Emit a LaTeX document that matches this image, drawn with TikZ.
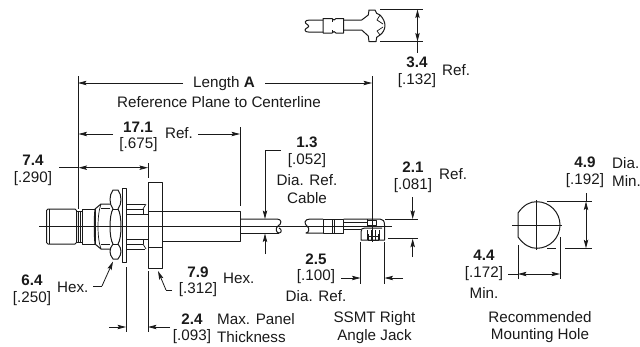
\documentclass[tikz,border=0pt]{standalone}
\usepackage{fontspec}
\setmainfont{Liberation Sans}
\usetikzlibrary{arrows.meta}
\definecolor{ink}{HTML}{1A1A1A}
\tikzset{
  lbl/.style={inner sep=0pt,text=ink,font=\fontsize{15.2}{16}\selectfont},
  bnum/.style={lbl,font=\fontsize{15.2}{16}\selectfont\bfseries},
  part/.style={draw=ink,line width=1pt,line join=round},
  thin part/.style={draw=ink,line width=0.7pt},
  dim/.style={draw=ink,line width=0.8pt},
  tip/.style={dim,-{Stealth[length=8.5pt,width=4.4pt,inset=1.5pt]}},
  tiptwo/.style={dim,{Stealth[length=8.5pt,width=4.4pt,inset=1.5pt]}-{Stealth[length=8.5pt,width=4.4pt,inset=1.5pt]}},
}
\begin{document}
\begin{tikzpicture}[x=1pt,y=-1pt]
\useasboundingbox (0,0) rectangle (640,346);
\fill[white] (0,0) rectangle (640,346);
% ---- top view of the jack
\draw[part] (323,20) -- (310,20) .. controls (304,20) and (304,23) .. (308,25) .. controls (311,27) and (305,28) .. (305,30) .. controls (305,33) and (310,32) .. (323,32);
\draw[part] (323,18.5) -- (332,18.5) -- (334,20) -- (336,18.5) -- (343.5,18.5) -- (343.5,33) -- (336,33) -- (334,31.5) -- (332,33) -- (323,33) -- cycle;
\draw[thin part] (332,18.5) -- (332,22) (332,30) -- (332,33);
\draw[part] (343.5,20) -- (361.7,20) -- (368.3,15) -- (369,10) -- (375,10) -- (376.7,13.3) -- (380,15) .. controls (383,18) and (385,22) .. (385,25.5) .. controls (385,29) and (383,33) .. (380,35) -- (376.7,37.3) -- (376,41.7) -- (369,41.7) -- (368.3,36) -- (361.7,30) -- (343.5,30);
\draw[thin part] (380,15) -- (377,20) -- (383,24) (380,35) -- (377,31) -- (383,27);
% ---- top view dimension
\coordinate (tdA) at (380,9.5); \coordinate (tdB) at (423,9.5);
\coordinate (tdC) at (380,41.5); \coordinate (tdD) at (423,41.5);
\draw[dim] (tdA) -- (tdB) (tdC) -- (tdD);
\coordinate (t1) at (417.5,9.5); \coordinate (t2) at (417.5,41.5); \coordinate (t3) at (417.5,53);
\draw[tiptwo] (t1) -- (t2);
\draw[dim] (t2) -- (t3);
\node[bnum] (n34) at (417,62) {3.4};
\node[lbl] (n132) at (417,81) {[.132]};
\node[lbl,anchor=west] (nref34) at (442,70) {Ref.};
% ---- Length A
\coordinate (la) at (78,83); \coordinate (lb) at (372,83);
\coordinate (la1) at (183,83); \coordinate (lb1) at (265,83);
\draw[dim] (78.5,76) -- (78.5,209);
\draw[dim] (372,76) -- (372,242);
\draw[tip] (la1) -- (la);
\draw[tip] (lb1) -- (lb);
\node[lbl] (nlen) at (224,84) {Length \textbf{A}};
\node[lbl,anchor=west] (nrefplane) at (117,102.5) {Reference Plane to Centerline};
% ---- 17.1
\draw[dim] (240,127) -- (240,206);
\coordinate (s1) at (113,134); \coordinate (s2) at (78.5,134);
\coordinate (s3) at (198,134); \coordinate (s4) at (240,134);
\draw[tip] (s1) -- (s2);
\draw[tip] (s3) -- (s4);
\node[bnum] (n171) at (138,127) {17.1};
\node[lbl] (n675) at (138.5,145) {[.675]};
\node[lbl] (nref171) at (179,133.5) {Ref.};
% ---- 7.4
\coordinate (v1) at (59,167.7); \coordinate (v2) at (78.5,167.7); \coordinate (v3) at (148,167.7);
\draw[dim] (v1) -- (v2);
\draw[tiptwo] (v2) -- (v3);
\draw[dim] (148,163) -- (148,178);
\node[bnum] (n74) at (33,160.5) {7.4};
\node[lbl] (n290) at (33,179) {[.290]};
% ---- connector body
\draw[part,rounded corners=1.5pt] (46.5,209) rectangle (76.5,244);
\draw[thin part] (49,209) -- (49,244);
\draw[part] (76.5,211) -- (82.5,211) (76.5,242) -- (82.5,242);
\draw[thin part] (78,211) -- (78,242) (80,211) -- (80,242);
\draw[part] (82.5,209) rectangle (95,244);
\draw[part] (95,209) -- (101,204) -- (110,204) (95,244) -- (101,249) -- (110,249);
\draw[part] (95,209) .. controls (94,218) and (94,235) .. (95,244);
\draw[thin part] (101,204) .. controls (97,215) and (97,238) .. (101,249);
\draw[thin part] (101,208.5) -- (110,208.5) (101,244.5) -- (110,244.5);
% nut
\draw[part,fill=white] (113,190) -- (118,190) .. controls (122,195) and (122,204) .. (118,209) .. controls (122,215) and (122,238) .. (118,244) .. controls (122,249) and (122,254) .. (118,259) -- (113,259) .. controls (109,254) and (109,249) .. (113,244) .. controls (109,238) and (109,215) .. (113,209) .. controls (109,204) and (109,195) .. (113,190) -- cycle;
\draw[thin part] (113,209) -- (118,209) (113,244) -- (118,244);
% washer
\draw[part] (122,188) rectangle (126,262);
% threaded section
\draw[part] (126,204) -- (145,204) (126,249) -- (145,249) (126,209) -- (143,209) (126,244) -- (143,244);
\draw[part] (126,214) -- (148,214) (126,239) -- (148,239);
\draw[thin part] (143,209) -- (146,204) (143,244) -- (146,249);
\draw[thin part] (143,209) -- (143,214) (143,239) -- (143,244);
% flange
\draw[part] (148,182) rectangle (162,268);
\draw[part] (148,211) -- (162,211) (148,247) -- (162,247);
% rear body
\draw[part] (162,211) -- (240,211) -- (240,241) -- (162,241);
% cable
\draw[part] (240,219) -- (277,219) .. controls (282,219) and (282,224) .. (278,226) .. controls (275,228) and (276,233) .. (279,233) .. controls (282,233) and (282,229) .. (279,228);
\draw[part] (279,233) -- (240,233);
\draw[part] (323,219) -- (310,219) .. controls (304,219) and (304,224) .. (307,226) .. controls (310,228) and (309,233) .. (306,233) -- (323,233);
\draw[part] (323,219) rectangle (343.5,233);
\draw[thin part] (332,219) -- (332,233) (334,219) -- (334,233);
\draw[part] (343.5,219) -- (380,219) .. controls (383,219) and (384.5,221) .. (384.5,225) -- (384.5,240) -- (361,240) -- (361,232) .. controls (361,229) and (362,228) .. (365,228) -- (382,228);
\draw[thin part] (343.5,222) -- (367,222) (343.5,226) -- (367,226);
\draw[thin part] (343.5,229) -- (361,229);
\draw[thin part] (367,219) -- (367,226) (368,234) -- (368,240) (378,234) -- (378,240);
\draw[part] (367,230) -- (367,240) (371,230) -- (371,240) (375,230) -- (375,240) (379,230) -- (379,240);
\draw[part] (368,236) rectangle (378,240);
\draw[part] (367.5,220) rectangle (376,225);
% centre line
\draw[dim] (39,226.7) -- (392,226.7);
% ---- 6.4 hex
\node[bnum] (n64) at (32,280) {6.4};
\node[lbl] (n250) at (32,299) {[.250]};
\node[lbl,anchor=west] (nhex64) at (57,287) {Hex.};
\coordinate (h1) at (102,286); \coordinate (h2) at (113,261.5);
\draw[dim] (93,286) -- (h1);
\draw[tip] (h1) -- (h2);
% ---- 7.9 hex
\node[bnum] (n79) at (198,272) {7.9};
\node[lbl] (n312) at (198,290) {[.312]};
\node[lbl,anchor=west] (nhex79) at (223,278.5) {Hex.};
\coordinate (i1) at (172,290); \coordinate (i3) at (166,290); \coordinate (i2) at (158,271);
\draw[dim] (i1) -- (i3);
\draw[tip] (i3) -- (i2);
% ---- 2.4
\draw[dim] (126,267) -- (126,331.5);
\draw[dim] (148,271) -- (148,331.5);
\coordinate (p1) at (109,327); \coordinate (p2) at (126,327);
\coordinate (p3) at (170,327); \coordinate (p4) at (148,327);
\draw[tip] (p1) -- (p2);
\draw[tip] (p3) -- (p4);
\node[bnum] (n24) at (192,319) {2.4};
\node[lbl] (n093) at (192,337) {[.093]};
\node[lbl,anchor=west] (nmax) at (217,319) {Max. Panel};
\node[lbl,anchor=west] (nthick) at (217,337) {Thickness};
% ---- 1.3
\node[bnum] (n13) at (307,142) {1.3};
\node[lbl] (n052) at (307,161) {[.052]};
\node[lbl] (ndia13) at (307,180) {Dia. Ref.};
\node[lbl] (ncable) at (307,198) {Cable};
\coordinate (c1) at (281,150.5); \coordinate (c2) at (265,150.5); \coordinate (c3) at (265,219);
\coordinate (c4) at (265,254); \coordinate (c5) at (265,233.5);
\draw[dim] (c1) -- (c2);
\draw[tip] (c2) -- (c3);
\draw[tip] (c4) -- (c5);
% ---- 2.1
\node[bnum] (n21) at (413,167) {2.1};
\node[lbl] (n081) at (413,186) {[.081]};
\node[lbl,anchor=west] (nref21) at (439,174) {Ref.};
\draw[dim] (385,219) -- (418,219) (388,238.7) -- (418,238.7);
\coordinate (e1) at (412.7,197); \coordinate (e2) at (412.7,219);
\coordinate (e3) at (412.7,257); \coordinate (e4) at (412.7,238.7);
\draw[tip] (e1) -- (e2);
\draw[tip] (e3) -- (e4);
% ---- 2.5
\node[bnum] (n25) at (316,259) {2.5};
\node[lbl] (n100) at (316,277) {[.100]};
\node[lbl] (ndia25) at (316,296) {Dia. Ref.};
\draw[dim] (360.5,242) -- (360.5,284) (384.5,242) -- (384.5,284);
\coordinate (f1) at (341,278); \coordinate (f2) at (360.5,278);
\coordinate (f3) at (403,278); \coordinate (f4) at (384.5,278);
\draw[tip] (f1) -- (f2);
\draw[tip] (f3) -- (f4);
% ---- jack caption
\node[lbl] (nssmt) at (374.5,319) {SSMT Right};
\node[lbl] (nangle) at (374.5,337) {Angle Jack};
% ---- mounting hole
\draw[part] (518,213) .. controls (524,204.5) and (530,201.7) .. (536.7,201.7) arc[start angle=-90,end angle=90,radius=23.3] .. controls (530,248.3) and (524,245) .. (518,237) -- cycle;
\draw[dim] (512,225) -- (562,225) (536.7,200) -- (536.7,249.5);
\draw[dim] (547,201.5) -- (592,201.5) (547,248.3) -- (556,248.3) (565,248.3) -- (592,248.3);
\coordinate (g1) at (586,201.5); \coordinate (g2) at (586,248.3); \coordinate (g3) at (586,193);
\draw[dim] (g3) -- (g1);
\draw[tiptwo] (g1) -- (g2);
\draw[dim] (518,245) -- (518,279) (560,237) -- (560,279);
\coordinate (k1) at (518,274); \coordinate (k2) at (560,274); \coordinate (k3) at (508,274);
\draw[dim] (k3) -- (k1);
\draw[tiptwo] (k1) -- (k2);
\node[bnum] (n44) at (484,255.7) {4.4};
\node[lbl] (n172) at (484,273.5) {[.172]};
\node[lbl] (nmin44) at (484,292.7) {Min.};
\node[bnum] (n49) at (585,162.7) {4.9};
\node[lbl] (n192) at (585,181) {[.192]};
\node[lbl,anchor=west] (ndia49) at (612,162.7) {Dia.};
\node[lbl,anchor=west] (nmin49) at (612,181) {Min.};
\node[lbl] (nrec) at (540,316.7) {Recommended};
\node[lbl] (nmount) at (540,336) {Mounting Hole};
\end{tikzpicture}
\end{document}
